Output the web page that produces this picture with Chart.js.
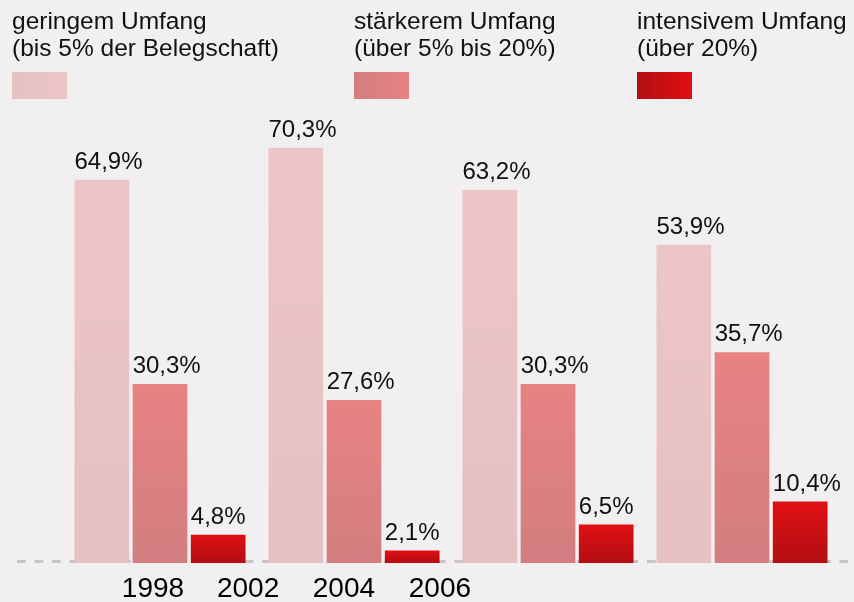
<!DOCTYPE html>
<html>
<head>
<meta charset="utf-8">
<script src="https://cdn.jsdelivr.net/npm/chart.js@4"></script>
<style>
  html, body { margin: 0; padding: 0; background: #f1eff0; }
  #wrap { width: 854px; height: 602px; }
</style>
</head>
<body>
<div id="wrap"><canvas id="chart"></canvas></div>
<script>
// data
const years = ['1998', '2002', '2004', '2006'];
const gering = [64.9, 70.3, 63.2, 53.9];
const staerker = [30.3, 27.6, 30.3, 35.7];
const intensiv = [4.8, 2.1, 6.5, 10.4];
const seriesLabels = [
    ['geringem Umfang', '(bis 5% der Belegschaft)'],
    ['stärkerem Umfang', '(über 5% bis 20%)'],
    ['intensivem Umfang', '(über 20%)']
];

const FONT = '"Liberation Sans", Arial, sans-serif';

// colours: [top, bottom] for bars, [left, right] for legend boxes
const shades = [
    ['#ecc5c7', '#e5c1c3'],
    ['#e88283', '#d27e80'],
    ['#e01014', '#b20e12']
];

function barFill(idx) {
    return function (ctx) {
        const chart = ctx.chart;
        if (!chart.chartArea || ctx.type !== 'data') return shades[idx][0];
        const y = chart.scales.y;
        const top = y.getPixelForValue(ctx.raw);
        const bottom = y.getPixelForValue(0);
        const g = chart.ctx.createLinearGradient(0, top, 0, bottom);
        g.addColorStop(0, shades[idx][0]);
        g.addColorStop(1, shades[idx][1]);
        return g;
    };
}

// dashed baseline behind the bars
const baseline = {
    id: 'baseline',
    beforeDatasetsDraw(chart) {
        const c = chart.ctx;
        const y = chart.scales.y.getPixelForValue(0) - 1.5;
        c.save();
        c.strokeStyle = '#c6c4c5';
        c.lineWidth = 3;
        c.setLineDash([8.7, 8.8]);
        c.beginPath();
        c.moveTo(17, y);
        c.lineTo(850, y);
        c.stroke();
        c.restore();
    }
};

// value labels, left aligned on each bar
const valueLabels = {
    id: 'valueLabels',
    afterDatasetsDraw(chart) {
        const c = chart.ctx;
        c.save();
        c.font = '24px ' + FONT;
        c.fillStyle = '#111';
        c.textAlign = 'left';
        c.textBaseline = 'alphabetic';
        chart.data.datasets.forEach((ds, i) => {
            chart.getDatasetMeta(i).data.forEach((bar, j) => {
                const txt = String(ds.data[j]).replace('.', ',') + '%';
                c.fillText(txt, bar.x - bar.width / 2, bar.y - 11);
            });
        });
        c.restore();
    }
};

// legend: two text lines above a gradient box
const topLegend = {
    id: 'topLegend',
    afterDraw(chart) {
        const c = chart.ctx;
        const xs = [12, 354, 637];
        c.save();
        c.font = '24.5px ' + FONT;
        c.textAlign = 'left';
        c.textBaseline = 'alphabetic';
        chart.data.datasets.forEach((ds, i) => {
            const x = xs[i];
            c.fillStyle = '#111';
            c.fillText(ds.label[0], x, 29);
            c.fillText(ds.label[1], x, 56);
            const g = c.createLinearGradient(x, 0, x + 55, 0);
            g.addColorStop(0, shades[i][1]);
            g.addColorStop(1, shades[i][0]);
            c.fillStyle = g;
            c.fillRect(x, 72, 55, 27);
        });
        c.restore();
    }
};

const ctx = document.getElementById('chart').getContext('2d');
const chart = new Chart(ctx, {
    type: 'bar',
    data: {
        labels: years,
        datasets: [
            { label: seriesLabels[0], data: gering, backgroundColor: barFill(0) },
            { label: seriesLabels[1], data: staerker, backgroundColor: barFill(1) },
            { label: seriesLabels[2], data: intensiv, backgroundColor: barFill(2) }
        ]
    },
    options: {
        responsive: true,
        maintainAspectRatio: false,
        animation: false,
        categoryPercentage: 0.9,
        barPercentage: 0.94,
        layout: { padding: { top: 120, left: 63, right: 15, bottom: -13 } },
        plugins: {
            legend: { display: false },
            tooltip: { enabled: false }
        },
        scales: {
            x: { display: false },
            // year labels sit on their own axis, half a group apart
            xYear: {
                type: 'linear',
                position: 'bottom',
                offset: false,
                min: -0.5,
                max: 3.5,
                grid: { display: false, drawTicks: false, offset: false },
                border: { display: false },
                afterBuildTicks(scale) {
                    scale.ticks = [-0.036, 0.454, 0.948, 1.443].map(v => ({ value: v }));
                },
                ticks: {
                    autoSkip: false,
                    maxRotation: 0,
                    padding: 12,
                    color: '#000',
                    font: { family: FONT, size: 28, lineHeight: 1 },
                    callback: (value, index) => years[index]
                }
            },
            y: {
                display: false,
                min: 0,
                max: 75
            }
        }
    },
    plugins: [baseline, valueLabels, topLegend]
});
</script>
</body>
</html>
